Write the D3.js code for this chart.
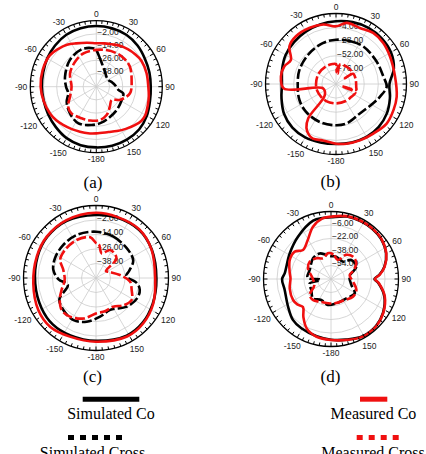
<!DOCTYPE html>
<html><head><meta charset="utf-8">
<script src="https://cdn.jsdelivr.net/npm/d3@7"></script>
<style>body{margin:0;background:#fff}svg{display:block}</style>
</head><body>
<svg id="chart" width="426" height="454"></svg>
<script>
// ---------- DATA ----------
const angleLabels = ["0","30","60","90","120","150","-180","-150","-120","-90","-60","-30"];
const angleLabelAngles = [0,30,60,90,120,150,180,210,240,270,300,330];
const a_radialTicks = [-2,-14,-26,-38];
const b_radialTicks = [-4,-28,-52,-76];
const c_radialTicks = [-2,-14,-26,-38];
const d_radialTicks = [-6,-22,-38,-54];
const panelLetters = ["(a)","(b)","(c)","(d)"];
const legendLabels = ["Simulated Co","Simulated Cross","Measured Co","Measured Cross"];

// [angle in degrees (clockwise from 0), dB]
const a_simCo = [[0,5.2],[15,5],[30,4.5],[45,3],[60,1],[75,0],[90,-0.5],[105,0.5],[120,3],[135,5],[150,5.5],[165,5.5],[180,5.2],[195,5],[210,4],[225,2],[240,0.5],[255,-0.5],[270,-0.5],[285,0],[300,1.5],[315,3],[330,4.5],[345,5]];
const a_simCross = [[0,-17],[5,-22],[15,-29],[30,-34.3],[45,-37],[61,-37.5],[75,-35],[85,-32.9],[98,-29.8],[104,-24.7],[118,-23.9],[139,-21.8],[159,-19.3],[172,-17],[187,-14.9],[206,-12.9],[225,-16],[243,-19.8],[257,-23.8],[270,-22.5],[288,-20.1],[315,-15.9],[339,-13.5],[355,-15]];
const a_measCo = [[0,-10.5],[10,-10],[20,-9],[30,-7],[40,-5.5],[50,-4],[60,-2.7],[75,-2.7],[90,-2.7],[100,-1.5],[110,-0.2],[120,1.5],[127,1.5],[135,-0.5],[145,-3.2],[155,-5.5],[165,-7.3],[180,-7.6],[190,-7],[200,-6.5],[210,-5.5],[221,-4],[230,-2.5],[240,-1.4],[255,-0.4],[270,0.6],[287,1.1],[304,1],[315,-1.3],[325,-3.5],[335,-6.5],[348,-9.1]];
const a_measCross = [[0,-16.5],[15,-15.5],[30,-14.5],[45,-14],[59,-14.4],[79,-17.3],[101,-18.8],[119,-25.3],[131,-31.5],[146,-28],[160,-22.6],[174,-19.5],[190,-18.8],[205,-18.3],[223,-16.9],[235,-18.7],[249,-24.4],[270,-27.5],[297,-23.2],[320,-20.2],[339,-17.5]];

const b_simCo = [[0,6.8],[15,9],[30,10.5],[45,10],[60,8],[75,2],[90,-9],[105,-5],[120,0],[135,3],[150,4],[165,3],[180,2],[195,3],[210,5],[225,5],[240,2],[255,-4],[270,-8],[285,-5],[300,-1],[315,1],[330,3],[345,5]];
const b_simCross = [[0,-24.6],[20,-23],[36,-21],[61,-21],[81,-18.4],[93,-13.6],[106,-22],[117,-28.5],[141,-35.4],[165,-30.4],[180,-29.7],[203,-29.7],[227,-30.4],[246,-32],[266,-34.7],[291,-33.3],[319,-30.8],[342,-26.8]];
const b_measCo = [[0,-1.8],[10,5.6],[23,3.7],[36,7.6],[49,6.6],[63,3.2],[83,1.3],[102,5.6],[114,7.4],[128,9.4],[143,5.6],[157,4.2],[170,3.2],[180,1.7],[193,-1.4],[203,1],[208,-2],[214,-10],[219,-25],[225,-73],[251,-77],[265,-11],[278,-5.4],[289,-7.1],[298,-13],[309,2],[320,6],[335,5.6],[348,3.5]];
const b_measCross = [[0,-66],[3,-80],[6,-70],[9,-82],[12,-66],[30,-65.5],[50,-65.5],[55,-66],[57,-82],[59,-66],[75,-65.5],[100,-65],[106,-64],[110,-90],[114,-64],[130,-66],[150,-66.5],[180,-67],[210,-66.5],[230,-66.5],[250,-66],[270,-66],[300,-65.5],[330,-65.5],[350,-65.5]];

const c_simCo = [[0,2.2],[19,3],[42,3.5],[63,1.8],[91,0],[114,1.5],[134,3.5],[152,4],[180,2],[204,2],[223,2.5],[241,1.5],[265,0.5],[290,1.5],[310,2.8],[333,3.2]];
const c_simCross = [[0,-11.7],[23,-12.9],[49,-14.7],[65,-16],[78,-22],[86,-25],[97,-16],[105,-12.5],[116,-12],[133,-15.2],[156,-21.1],[174,-17.8],[192,-13],[208,-10.5],[226,-12.2],[240,-15],[256,-26],[268,-19],[281,-14],[296,-12.3],[315,-11.5],[336,-11]];
const c_measCo = [[0,4],[19,3.5],[42,3.9],[63,1.6],[91,-1],[114,1.9],[134,4.2],[152,4.8],[180,2.7],[204,3.1],[223,5.4],[241,4.6],[265,2.1],[290,2.1],[310,3.2],[333,3.8]];
const c_measCross = [[0,-21],[5,-22],[13,-29],[27,-24],[46,-26.4],[55,-40],[65,-38],[83,-30],[96,-21.7],[108,-19],[122,-15.3],[135,-18],[149,-22.3],[165,-21.5],[179,-20.8],[197,-15],[214,-11.4],[227,-11.2],[239,-15],[251,-19.9],[266,-24],[284,-22.1],[297,-16.7],[312,-15.4],[333,-14.7],[352,-16]];

const d_simCo = [[0,3.1],[14,6.3],[28,7],[40,7],[51,6],[65,2],[77,-5],[85,-12.5],[90,-18.5],[95,-13.5],[108,-3.5],[123,3.5],[136,7],[151,7.5],[166,4],[180,2],[194,0],[211,-1.8],[223,-3.8],[237,-9.4],[257,-13.6],[270,-12],[277,-14.7],[302,-12.4],[322,-6.4],[343,2.3],[352,3]];
const d_simCross = [[0,-43],[13,-42.8],[35,-45],[47,-37],[64,-36.7],[82,-47.8],[106,-44.9],[121,-37.2],[142,-40.7],[168,-40.5],[187,-39],[205,-42.6],[223,-38.7],[241,-43.3],[258,-44],[264,-57],[268,-57],[273,-42],[293,-42.6],[319,-37.5],[336,-36.8],[349,-41]];
const d_measCo = [[0,3.9],[14,6.8],[28,7.5],[40,7.5],[51,6.5],[65,2.3],[77,-4.7],[85,-12],[90,-18],[95,-13],[108,-3],[123,3.9],[136,7.5],[151,8],[166,4.5],[180,2.3],[194,0.5],[206,-4.6],[216,-14.3],[225,-23],[233,-20],[241,-18.6],[257,-19.8],[271,-22],[280,-20.2],[295,-16.1],[307,-16.2],[316,-22.2],[329,-16.3],[341,-4.5],[352,2.5]];
const d_measCross = [[0,-39.5],[8,-42],[20,-46],[32,-36.2],[45,-32.9],[58,-34.7],[70,-42],[78,-47.4],[97,-43.7],[113,-37.3],[129,-36.6],[147,-40.3],[171,-40.8],[187,-41],[206,-40],[221,-37.2],[233,-38.5],[250,-49],[273,-48],[295,-39.9],[309,-37.4],[325,-39.9],[339,-43.7],[353,-39.3]];

// ---------- LAYOUT ----------
const panels = [
  {cx:96.3, cy:86.7, R:66,   domain:[-50,10],  ticks:a_radialTicks, letter:panelLetters[0], lx:93,   ly:188,   series:[a_simCo,a_simCross,a_measCo,a_measCross]},
  {cx:336,  cy:84,   R:70.5, domain:[-100,20], ticks:b_radialTicks, letter:panelLetters[1], lx:330.5,ly:187,   series:[b_simCo,b_simCross,b_measCo,b_measCross]},
  {cx:96,   cy:278,  R:72.5, domain:[-50,10],  ticks:c_radialTicks, letter:panelLetters[2], lx:92.5, ly:381.5, series:[c_simCo,c_simCross,c_measCo,c_measCross]},
  {cx:331,  cy:279,  R:67.5, domain:[-70,10],  ticks:d_radialTicks, letter:panelLetters[3], lx:330.5,ly:381.5, series:[d_simCo,d_simCross,d_measCo,d_measCross]}
];
const RED = "#f01010";
const seriesStyle = [
  {color:"#000", dash:null},
  {color:"#000", dash:"10,3"},
  {color:RED, dash:null},
  {color:RED, dash:"10,3"}
];

const svg = d3.select("#chart");
const rad = Math.PI/180;
const fmt = d3.format(".2f");

panels.forEach(p => {
  const g = svg.append("g").attr("transform", `translate(${p.cx},${p.cy})`);
  const r = d3.scaleLinear().domain(p.domain).range([0, p.R]).clamp(true);

  g.selectAll("circle.grid").data(p.ticks).join("circle")
    .attr("class","grid").attr("r", d => r(d))
    .attr("fill","none").attr("stroke","#cccccc").attr("stroke-width",0.8);
  g.selectAll("line.spoke").data(d3.range(0,360,30)).join("line")
    .attr("class","spoke")
    .attr("x1",0).attr("y1",0)
    .attr("x2", d => p.R*Math.sin(d*rad)).attr("y2", d => -p.R*Math.cos(d*rad))
    .attr("stroke","#cccccc").attr("stroke-width",0.8);
  g.selectAll("text.rl").data(p.ticks).join("text")
    .attr("class","rl")
    .attr("x", 1).attr("y", d => -r(d) - 2).attr("dy","0.35em")
    .attr("font-family","'Liberation Sans', Arial, sans-serif")
    .attr("font-size", 8.5).attr("fill","#222")
    .text(d => fmt(d));

  const line = d3.lineRadial()
    .angle(d => d[0]*rad)
    .radius(d => r(d[1]))
    .curve(d3.curveCatmullRomClosed.alpha(0.5));
  p.series.forEach((s, i) => {
    const st = seriesStyle[i];
    g.append("path").attr("d", line(s))
      .attr("fill","none").attr("stroke", st.color)
      .attr("stroke-width", 2.6)
      .attr("stroke-linejoin","round")
      .attr("stroke-dasharray", st.dash);
  });

  g.append("circle").attr("r", p.R).attr("fill","none").attr("stroke","#000").attr("stroke-width",1.3);
  g.selectAll("line.tick").data(d3.range(0,360,5)).join("line")
    .attr("class","tick")
    .attr("x1", d => p.R*Math.sin(d*rad)).attr("y1", d => -p.R*Math.cos(d*rad))
    .attr("x2", d => (p.R-(d%30===0?4:3))*Math.sin(d*rad))
    .attr("y2", d => -(p.R-(d%30===0?4:3))*Math.cos(d*rad))
    .attr("stroke","#000").attr("stroke-width",1);

  angleLabelAngles.forEach((a, i) => {
    const t = g.append("text")
      .attr("font-family","'Liberation Sans', Arial, sans-serif")
      .attr("font-size", 8.5).attr("fill","#222")
      .attr("text-anchor","middle").attr("dy","0.35em")
      .text(angleLabels[i]);
    const w = t.node().getComputedTextLength();
    const s = Math.sin(a*rad), c = Math.cos(a*rad);
    const rc = p.R + 3 + Math.abs(s)*w/2 + Math.abs(c)*3.2;
    t.attr("x", rc*s).attr("y", -rc*c);
  });

  svg.append("text").attr("x", p.lx).attr("y", p.ly)
    .attr("text-anchor","middle")
    .attr("font-family","'Liberation Serif', 'Times New Roman', serif")
    .attr("font-size", 17).attr("fill","#000")
    .text(p.letter);
});

// ---------- LEGEND ----------
const legendItems = [
  {label:legendLabels[0], color:"#000", dash:null,  x1:82.7, x2:139.3, ly:399.2, tx:111,   ty:419.3},
  {label:legendLabels[1], color:"#000", dash:"6,6", x1:68,   x2:122,   ly:437.5, tx:92.5,  ty:457.5},
  {label:legendLabels[2], color:RED,    dash:null,  x1:360,  x2:387.3, ly:399.2, tx:373.5, ty:419.3},
  {label:legendLabels[3], color:RED,    dash:"6,6", x1:356.7,x2:398.7, ly:437.5, tx:373,   ty:457.5}
];
const lg = svg.append("g");
legendItems.forEach(it => {
  lg.append("line").attr("x1", it.x1).attr("x2", it.x2).attr("y1", it.ly).attr("y2", it.ly)
    .attr("stroke", it.color).attr("stroke-width", 5).attr("stroke-dasharray", it.dash);
  lg.append("text").attr("x", it.tx).attr("y", it.ty).attr("text-anchor","middle")
    .attr("font-family","'Liberation Serif', 'Times New Roman', serif")
    .attr("font-size", 16).attr("fill","#000").text(it.label);
});
</script>
</body></html>
